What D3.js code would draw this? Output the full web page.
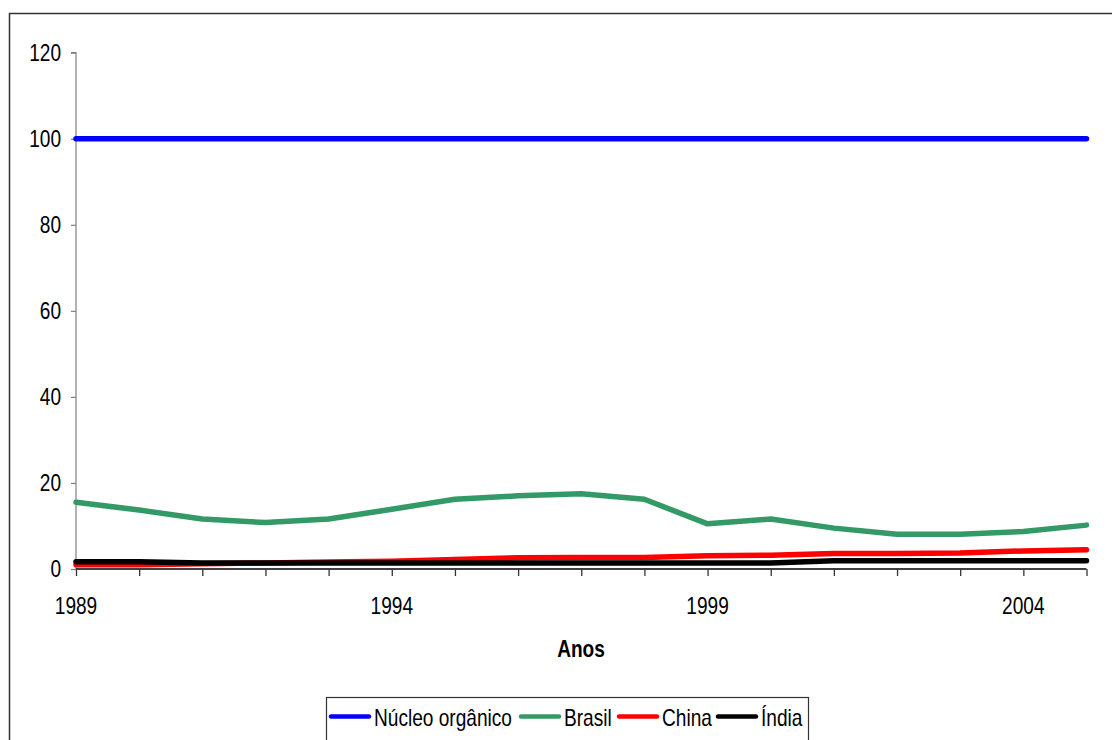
<!DOCTYPE html>
<html>
<head>
<meta charset="utf-8">
<script src="https://cdn.jsdelivr.net/npm/d3@7"></script>
<style>
  html, body { margin: 0; padding: 0; background: #fff; }
  svg { display: block; }
  text { font-family: "Liberation Sans", Arial, sans-serif; fill: #000; }
</style>
</head>
<body>
<svg id="chart" width="1112" height="740"></svg>
<script>
const years = [1989,1990,1991,1992,1993,1994,1995,1996,1997,1998,1999,2000,2001,2002,2003,2004,2005];
const nucleo = [100,100,100,100,100,100,100,100,100,100,100,100,100,100,100,100,100];
const brasil = [15.5,13.7,11.6,10.8,11.6,13.9,16.2,17.0,17.5,16.2,10.5,11.6,9.5,8.1,8.1,8.7,10.2];
const china  = [1.0,1.0,1.2,1.4,1.6,1.8,2.2,2.6,2.7,2.7,3.1,3.2,3.6,3.6,3.7,4.2,4.5];
const india  = [1.7,1.7,1.4,1.4,1.4,1.4,1.4,1.4,1.4,1.4,1.4,1.4,1.9,1.9,1.9,1.9,1.9];
const yTicks = [0,20,40,60,80,100,120];
const xLabelYears = [1989,1994,1999,2004];
const seriesNames = ["Núcleo orgânico","Brasil","China","Índia"];
const seriesColors = ["#0000FF","#339966","#FF0000","#000000"];
const seriesValues = [nucleo, brasil, china, india];
const xTitle = "Anos";

const svg = d3.select("#chart");
const SX = 0.83;
const fs = 23;

function addText(g, x, y, str, anchor, weight) {
  return g.append("text")
    .attr("transform", `translate(${x},${y}) scale(${SX},1)`)
    .attr("text-anchor", anchor || "start")
    .style("font-size", fs + "px")
    .style("font-weight", weight || "normal")
    .text(str);
}

// outer border (clipped at right/bottom like reference)
svg.append("rect")
  .attr("x", 9.5).attr("y", 13.5).attr("width", 1200).attr("height", 800)
  .attr("fill", "none").attr("stroke", "#333").attr("stroke-width", 1.5);

const x = d3.scalePoint().domain(years).range([76, 1086.5]);
const y = d3.scaleLinear().domain([0, 120]).range([569, 52.7]);

// Y axis
const yAxis = d3.axisLeft(y).tickValues(yTicks).tickSize(5).tickFormat("");
const gy = svg.append("g").attr("transform", "translate(76,0)").call(yAxis);
gy.select(".domain").attr("stroke", "#808080").attr("stroke-width", 1.2).attr("d", `M-5,${y(120)}H0V${y(0)}`);
gy.selectAll(".tick line").attr("stroke", "#808080").attr("stroke-width", 1.2);
yTicks.forEach(v => addText(svg, 61, y(v) + 8.3, String(v), "end"));

// X axis
const xAxis = d3.axisBottom(x).tickSize(7).tickFormat("");
const gx = svg.append("g").attr("transform", `translate(0,${y(0)})`).call(xAxis);
gx.select(".domain").attr("stroke", "#000").attr("stroke-width", 1.4).attr("d", `M${x(1989)},0H${x(2005)}`);
gx.selectAll(".tick line").attr("stroke", "#333").attr("stroke-width", 1.3);
xLabelYears.forEach(yr => addText(svg, x(yr), 614, String(yr), "middle"));

addText(svg, 581, 657, xTitle, "middle", "bold");

// lines
const line = d3.line().x((d, i) => x(years[i])).y(d => y(d));
seriesValues.forEach((vals, k) => {
  svg.append("path")
    .datum(vals)
    .attr("d", line)
    .attr("fill", "none")
    .attr("stroke", seriesColors[k])
    .attr("stroke-width", 5.5)
    .attr("stroke-linejoin", "round")
    .attr("stroke-linecap", "round");
});

// legend
const lg = svg.append("g");
lg.append("rect").attr("x", 326.5).attr("y", 697.5).attr("width", 482).attr("height", 80)
  .attr("fill", "#fff").attr("stroke", "#333").attr("stroke-width", 1.2);
const legendX = [331, 521, 619, 718];
const legendY = 716.5;
seriesNames.forEach((name, k) => {
  lg.append("line")
    .attr("x1", legendX[k]).attr("x2", legendX[k] + 38)
    .attr("y1", legendY).attr("y2", legendY)
    .attr("stroke", seriesColors[k]).attr("stroke-width", 4.5).attr("stroke-linecap", "round");
  addText(lg, legendX[k] + 43, 725.5, name, "start");
});
</script>
</body>
</html>
